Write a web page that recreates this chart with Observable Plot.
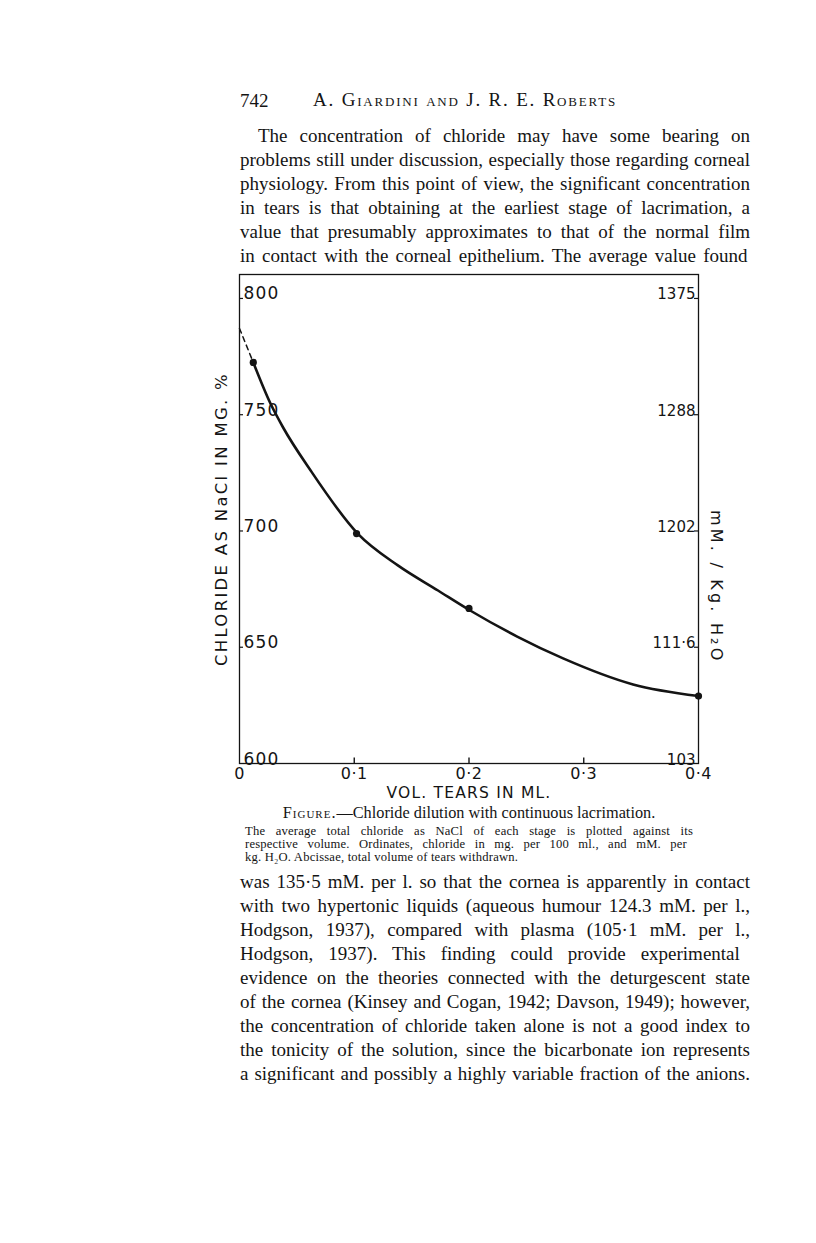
<!DOCTYPE html>
<html>
<head>
<meta charset="utf-8">
<script src="https://cdn.jsdelivr.net/npm/d3@7"></script>
<script src="https://cdn.jsdelivr.net/npm/@observablehq/plot@0.6"></script>
<style>
  html, body { margin: 0; padding: 0; background: #ffffff; }
  body { width: 816px; height: 1243px; position: relative; overflow: hidden; color: #141414; }
  .ln { position: absolute; font-family: "Liberation Serif", serif; font-size: 19px; line-height: 24px; white-space: nowrap; }
  .sm { position: absolute; font-family: "Liberation Serif", serif; font-size: 12.6px; line-height: 13px; white-space: nowrap; letter-spacing: 0.2px; }
  #chart { position: absolute; left: 190px; top: 264px; }
</style>
</head>
<body>
<div id="chart"></div>
<script>
// ---- chart data ----
const xTickValues = [0, 0.1, 0.2, 0.3, 0.4];
const xTickLabels = ["0", "0·1", "0·2", "0·3", "0·4"];
const leftTickValues = [600, 650, 700, 750, 800];
const leftTickLabels = ["600", "650", "700", "750", "800"];
const rightTickLabels = ["103", "111·6", "1202", "1288", "1375"];
const xTitle = "VOL. TEARS IN ML.";
const yTitle = "CHLORIDE AS NaCl IN MG. %";
const y2Title = "mM. / Kg. H₂O";
// measured stages (volume ml, chloride mg %)
const stageVolume = [0.012, 0.102, 0.200, 0.400];
const stageChloride = [772.5, 698.9, 666.7, 629.0];
// extrapolated dashed segment
const dashVolume = [0, 0.012];
const dashChloride = [787.1, 772.5];
// fitted smooth curve
const curveVolume = [0.012, 0.027, 0.038, 0.062, 0.103, 0.138, 0.173, 0.201, 0.242, 0.282, 0.343, 0.400];
const curveChloride = [772.5, 754.8, 744.5, 726.0, 698.9, 685.2, 674.4, 665.8, 654.6, 645.2, 634.0, 629.0];

const stages = stageVolume.map((v, i) => ({v, c: stageChloride[i]}));
const dash = dashVolume.map((v, i) => ({v, c: dashChloride[i]}));
const curve = curveVolume.map((v, i) => ({v, c: curveChloride[i]}));
const leftTicks = leftTickValues.map((y, i) => ({y, left: leftTickLabels[i], right: rightTickLabels[i]}));
const xTicks = xTickValues.map((x, i) => ({x, label: xTickLabels[i]}));
const xMinor = [0.1, 0.2, 0.3];

const font = "DejaVu Sans, sans-serif";
const plot = Plot.plot({
  width: 570,
  height: 545,
  marginLeft: 49,
  marginRight: 62,
  marginTop: 10,
  marginBottom: 46,
  x: {domain: [0, 0.4], axis: null},
  y: {domain: [600, 810.3], axis: null},
  style: {fontFamily: font, fontSize: "14px", color: "#141414", background: "transparent", overflow: "visible"},
  marks: [
    Plot.frame({stroke: "#141414", strokeWidth: 1.3}),
    // inward ticks
    Plot.ruleY(leftTicks.slice(1), {y: "y", x1: 0, x2: 0.0035, stroke: "#141414", strokeWidth: 1.2}),
    Plot.ruleY(leftTicks.slice(1), {y: "y", x1: 0.3965, x2: 0.4, stroke: "#141414", strokeWidth: 1.2}),
    Plot.ruleX(xMinor, {x: d => d, y1: 600, y2: 602.4, stroke: "#141414", strokeWidth: 1.4}),
    // tick labels inside frame
    Plot.text(leftTicks, {x: 0, y: "y", text: "left", textAnchor: "start", lineAnchor: "bottom", dx: 4, dy: 1, fontSize: 17}),
    Plot.text(leftTicks, {x: 0.4, y: "y", text: "right", textAnchor: "end", lineAnchor: "bottom", dx: -3, dy: 1, fontSize: 15}),
    // x tick labels
    Plot.text(xTicks, {x: "x", text: "label", frameAnchor: "bottom", lineAnchor: "top", dy: 4, fontSize: 16}),
    // axis titles
    Plot.text([xTitle], {x: 0.2, frameAnchor: "bottom", lineAnchor: "middle", dy: 30, fontSize: 15.5}),
    Plot.text([yTitle], {frameAnchor: "left", textAnchor: "middle", dx: -18, rotate: -90, fontSize: 16.5}),
    Plot.text([y2Title], {x: 0.4, y: 676, dx: 18, rotate: 90, fontSize: 16}),
    // curve
    Plot.line(dash, {x: "v", y: "c", stroke: "#141414", strokeWidth: 1.5, strokeDasharray: "5,4"}),
    Plot.line(curve, {x: "v", y: "c", curve: "monotone-x", stroke: "#141414", strokeWidth: 2.6}),
    Plot.dot(stages, {x: "v", y: "c", r: 3.6, fill: "#141414"})
  ]
});
document.getElementById("chart").appendChild(plot);

// letter spacing for the lettering of the figure
const spacing = new Map([[xTitle, 1.2], [yTitle, 2.3], [y2Title, 3.2]]);
leftTickLabels.forEach(l => spacing.set(l, 1.2));
xTickLabels.forEach(l => spacing.set(l, 0.5));
plot.querySelectorAll("text").forEach(t => {
  const s = spacing.get(t.textContent);
  if (s != null) t.style.letterSpacing = s + "px";
});

// ---- page text ----
const topLines = [
  "The concentration of chloride may have some bearing on",
  "problems still under discussion, especially those regarding corneal",
  "physiology. From this point of view, the significant concentration",
  "in tears is that obtaining at the earliest stage of lacrimation, a",
  "value that presumably approximates to that of the normal film",
  "in contact with the corneal epithelium.  The average value found"
];
const bottomLines = [
  "was 135·5 mM. per l. so that the cornea is apparently in contact",
  "with two hypertonic liquids (aqueous humour 124.3 mM. per l.,",
  "Hodgson, 1937), compared with plasma (105·1 mM. per l.,",
  "Hodgson, 1937).  This finding could provide experimental",
  "evidence on the theories connected with the deturgescent state",
  "of the cornea (Kinsey and Cogan, 1942; Davson, 1949); however,",
  "the concentration of chloride taken alone is not a good index to",
  "the tonicity of the solution, since the bicarbonate ion represents",
  "a significant and possibly a highly variable fraction of the anions."
];
const captionLines = [
  "The average total chloride as NaCl of each stage is plotted against its",
  "respective volume.  Ordinates, chloride in mg. per 100 ml., and mM. per",
  "kg. H₂O.  Abcissae, total volume of tears withdrawn."
];

function addLine(text, cls, left, top, width, justify) {
  const d = document.createElement("div");
  d.className = cls;
  d.style.left = left + "px";
  d.style.top = top + "px";
  d.textContent = text;
  document.body.appendChild(d);
  if (justify) {
    const w = d.getBoundingClientRect().width;
    const spaces = (text.match(/ /g) || []).length;
    if (spaces > 0) d.style.wordSpacing = ((width - w) / spaces) + "px";
  }
  return d;
}

topLines.forEach((t, i) => addLine(t, "ln", i === 0 ? 258 : 240, 124 + i * 24, i === 0 ? 492 : 510, true));
bottomLines.forEach((t, i) => addLine(t, "ln", 240, 870 + i * 24, 510, true));

// header
const pg = addLine("742", "ln", 240, 89, 0, false);
const hd = addLine("A. Giardini and J. R. E. Roberts", "ln", 0, 88, 0, false);
hd.style.fontVariant = "small-caps";
hd.style.letterSpacing = "1.8px";
hd.style.fontSize = "19px";
const hw = hd.getBoundingClientRect().width;
hd.style.left = (465 - hw / 2) + "px";

// figure caption
const cap = document.createElement("div");
cap.className = "ln";
cap.style.fontSize = "16.3px";
cap.style.top = "801px";
cap.innerHTML = '<span style="font-variant:small-caps;letter-spacing:1px">Figure.</span>—Chloride dilution with continuous lacrimation.';
document.body.appendChild(cap);
const cw = cap.getBoundingClientRect().width;
cap.style.left = (469 - cw / 2) + "px";

captionLines.forEach((t, i) => addLine(t, "sm", 245, 825 + i * 13, 448, i < 2));
</script>
</body>
</html>
